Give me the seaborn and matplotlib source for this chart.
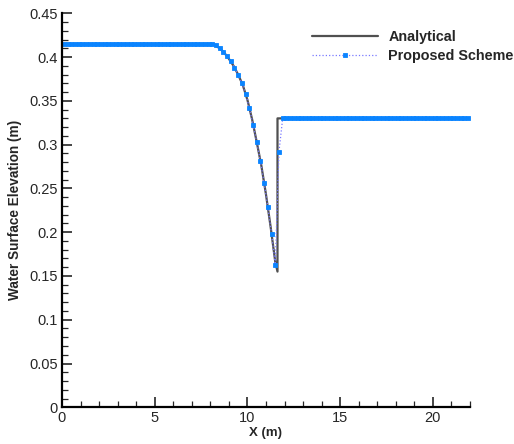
import numpy as np
import pandas as pd
import matplotlib
matplotlib.use("Agg")
import matplotlib.pyplot as plt
import seaborn as sns
from matplotlib.ticker import MultipleLocator

sns.set_style("ticks")
plt.rcParams['font.family'] = ['Liberation Sans', 'DejaVu Sans']

# Analytical solution
ana_x = [0.0, 8.0, 8.25, 8.5, 8.75, 9.0, 9.25, 9.5, 9.75, 10.0, 10.25, 10.5,
         10.75, 11.0, 11.25, 11.5, 11.62, 11.62, 22.0]
ana_y = [0.415, 0.415, 0.4137, 0.410, 0.405, 0.398, 0.390, 0.380, 0.368, 0.351,
         0.329, 0.303, 0.276, 0.243, 0.206, 0.166, 0.155, 0.330, 0.330]

# Proposed scheme (cell centres, dx = 0.2 m)
prop_x = [round(0.1 + 0.2 * i, 2) for i in range(110)]
curve_vals = {8.3: 0.4135, 8.5: 0.410, 8.7: 0.406, 8.9: 0.401, 9.1: 0.395,
              9.3: 0.388, 9.5: 0.380, 9.7: 0.370, 9.9: 0.358, 10.1: 0.342,
              10.3: 0.323, 10.5: 0.303, 10.7: 0.281, 10.9: 0.256, 11.1: 0.229,
              11.3: 0.198, 11.5: 0.163, 11.7: 0.292}
upstream_level = 0.415
downstream_level = 0.330
prop_y = []
for xv in prop_x:
    if xv in curve_vals:
        prop_y.append(curve_vals[xv])
    elif xv < 8.2:
        prop_y.append(upstream_level)
    else:
        prop_y.append(downstream_level)

fig = plt.figure(figsize=(5.14, 4.44), dpi=100)
ax = fig.add_axes([0.1206, 0.0827, 0.7938, 0.8873])

sns.lineplot(x=ana_x, y=ana_y, estimator=None, sort=False, ax=ax,
             color="#505050", linewidth=1.6, label="Analytical")
sns.lineplot(x=prop_x, y=prop_y, estimator=None, sort=False, ax=ax,
             color="#7878ff", linewidth=0.9, linestyle=":",
             marker="s", markersize=3.3, markerfacecolor="#0a84ff",
             markeredgecolor="#0a84ff", markeredgewidth=0.6,
             label="Proposed Scheme")

ax.set_xlim(0, 22)
ax.set_ylim(0, 0.45)
ax.xaxis.set_major_locator(MultipleLocator(5))
ax.xaxis.set_minor_locator(MultipleLocator(1))
ax.yaxis.set_major_locator(MultipleLocator(0.05))
ax.yaxis.set_minor_locator(MultipleLocator(0.01))
ax.set_yticks(np.arange(0, 0.451, 0.05))
ax.set_yticklabels(["0", "0.05", "0.1", "0.15", "0.2", "0.25", "0.3", "0.35", "0.4", "0.45"])
ax.tick_params(which="major", direction="in", length=7, width=1.2, labelsize=10.5, pad=3)
ax.tick_params(which="minor", direction="in", length=4, width=0.9)
for s in ["top", "right"]:
    ax.spines[s].set_visible(False)
for s in ["left", "bottom"]:
    ax.spines[s].set_linewidth(1.6)
    ax.spines[s].set_color("black")

ax.set_xlabel("X (m)", fontsize=9.5, fontweight="bold", labelpad=1)
ax.set_ylabel("Water Surface Elevation (m)", fontsize=9.8, fontweight="bold", labelpad=5)

leg = ax.legend(loc="upper left", bbox_to_anchor=(0.612, 0.957), frameon=False,
                borderpad=0, borderaxespad=0, handlelength=4.6, handletextpad=0.7,
                labelspacing=0.35, prop={"weight": "bold", "size": 10.4})

fig.savefig("out.png", dpi=100)
